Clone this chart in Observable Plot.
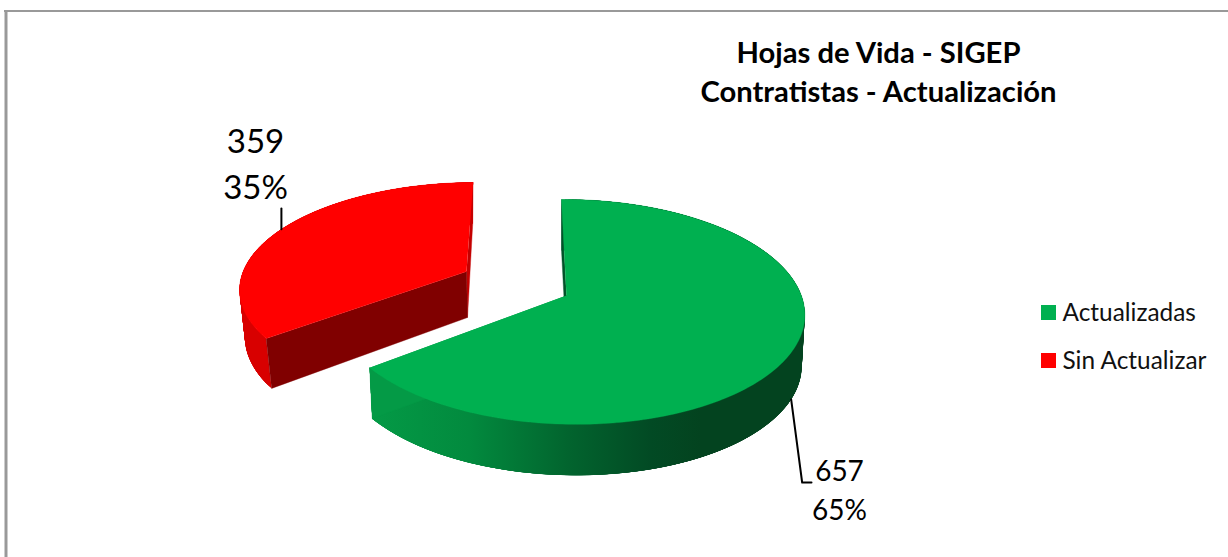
<!DOCTYPE html>
<html><head><meta charset="utf-8">
<style>html,body{margin:0;padding:0;background:#fff}svg{display:block}</style>
<script src="https://cdn.jsdelivr.net/npm/d3@7"></script>
<script src="https://cdn.jsdelivr.net/npm/@observablehq/plot@0.6"></script>
</head><body><div id="chart"></div>
<script>
const categories = ["Actualizadas", "Sin Actualizar"];
const counts = [657, 359];
const percents = ["65%", "35%"];
const titleLines = ["Hojas de Vida - SIGEP", "Contratistas - Actualización"];
const colors = ["#00b050", "#ff0000"];

const total = d3.sum(counts);
const sweep = 360 * counts[0] / total;
const rad = Math.PI / 180;

// View of the tilted pie: where each slice's disc lands on the page
const P = 0.146, Q = -0.012;
const discs = {
  green: {top: {ax: 566, ay: 295, rx: 232, ry: 110, sh: -5.7}, bottom: {ax: 566, ay: 346, rx: 229, ry: 110, sh: -5.7}},
  red:   {top: {ax: 466, ay: 271, rx: 226, ry: 102, sh: 7.5},  bottom: {ax: 467, ay: 317, rx: 222, ry: 108, sh: 6}}
};
const project = (d, deg) => {
  const s = Math.sin(deg * rad), c = Math.cos(deg * rad), k = 1 / (1 + P * c + Q * s);
  return {x: d.ax + (d.rx * s + d.sh * c) * k, y: d.ay - d.ry * c * k};
};
const steps = 240;
const arc = (d, a0, a1) => d3.range(0, steps + 1).map(i => project(d, a0 + (a1 - a0) * i / steps));
const apex = d => ({x: d.ax, y: d.ay});
const area = (pts, fill) => Plot.line(pts, {x: "x", y: "y", fill, stroke: fill, strokeWidth: 0.4, curve: "linear"});

function sliceMarks(disc, a0, a1, rimFill, startWall, endWall, topFill) {
  const {top, bottom} = disc;
  const t = arc(top, a0, a1), b = arc(bottom, a0, a1);
  // Overlapping strips, so that no seam shows between neighbours
  const rim = d3.range(steps).flatMap(i => {
    const j = Math.min(i + 6, steps);
    return [t[i], t[j], b[j], b[i]].map(p => ({...p, quad: i}));
  });
  const wall0 = [project(top, a0), project(bottom, a0), apex(bottom), apex(top)];
  const wall1 = [project(top, a1), project(bottom, a1), apex(bottom), apex(top)];
  const face = [apex(top), ...t];
  return [
    Plot.line(rim, {x: "x", y: "y", z: "quad", fill: rimFill, stroke: "none", curve: "linear"}),
    area(wall1, endWall), area(wall0, startWall), area(face, topFill)
  ];
}

const rimGradient = () => {
  const defs = d3.create("svg:defs");
  const g = defs.append("linearGradient").attr("id", "rim").attr("gradientUnits", "userSpaceOnUse")
    .attr("x1", 370).attr("x2", 700).attr("y1", 0).attr("y2", 0);
  [[0, "#049a46"], [0.3, "#028a3e"], [0.6, "#02642e"], [0.85, "#024a24"], [1, "#03431f"]]
    .forEach(([o, c]) => g.append("stop").attr("offset", o).attr("stop-color", c));
  return defs.node();
};

const midG = sweep / 2, midR = sweep + (360 - sweep) / 2;
const leaderG0 = project(discs.green.bottom, midG);
const leaderR0 = project(discs.red.top, midR);
const leaders = [
  [leaderG0, {x: leaderG0.x + 11, y: 482}, {x: 811, y: 482}],
  [leaderR0, {x: leaderR0.x, y: 208}]
];

const font = "Lato, 'Noto Sans', sans-serif";
const valueLabels = [
  {t: String(counts[1]), x: 255, y: 154, s: 33},
  {t: percents[1], x: 255, y: 200, s: 33},
  {t: String(counts[0]), x: 839, y: 482, s: 28},
  {t: percents[0], x: 839, y: 521, s: 28}
];
const legendRows = categories.map((name, i) => ({name, color: colors[i], y1: 305 + 48 * i, y2: 320 + 48 * i}));

const chart = Plot.plot({
  width: 1228, height: 557, margin: 0,
  x: {domain: [0, 1228], range: [0, 1228], axis: null},
  y: {domain: [0, 557], range: [0, 557], axis: null},
  style: {background: "#fff", fontFamily: font},
  marks: [
    rimGradient,
    Plot.ruleY([10.5], {x1: 4, x2: 1228, stroke: "#999", strokeWidth: 2}),
    Plot.ruleX([5.5], {y1: 10, y2: 557, stroke: "#999", strokeWidth: 3}),
    ...sliceMarks(discs.red, sweep, 360, "#d80000", "#800000", "#c40000", colors[1]),
    ...sliceMarks(discs.green, 0, sweep, "url(#rim)", "#03522a", "#049a46", colors[0]),
    ...leaders.map(l => Plot.line(l, {x: "x", y: "y", stroke: "#000", strokeWidth: 2, curve: "linear"})),
    Plot.text(valueLabels, {x: "x", y: "y", text: "t", fontSize: d => d.s, lineAnchor: "bottom", fill: "#000", dy: -2, fontFamily: font}),
    Plot.text(titleLines, {x: 878, y: (d, i) => [63, 102][i], text: d => d, fontSize: 29.2, fontWeight: 700, lineAnchor: "bottom", dy: -1, fill: "#000", fontFamily: font}),
    Plot.rect(legendRows, {x1: 1041, x2: 1056, y1: "y1", y2: "y2", fill: "color", inset: 0}),
    Plot.text(legendRows, {x: 1062, y: "y2", text: "name", textAnchor: "start", lineAnchor: "bottom", dy: 0, fontSize: 24.4, fill: "#111", fontFamily: font})
  ]
});
document.getElementById("chart").appendChild(chart);
</script></body></html>
